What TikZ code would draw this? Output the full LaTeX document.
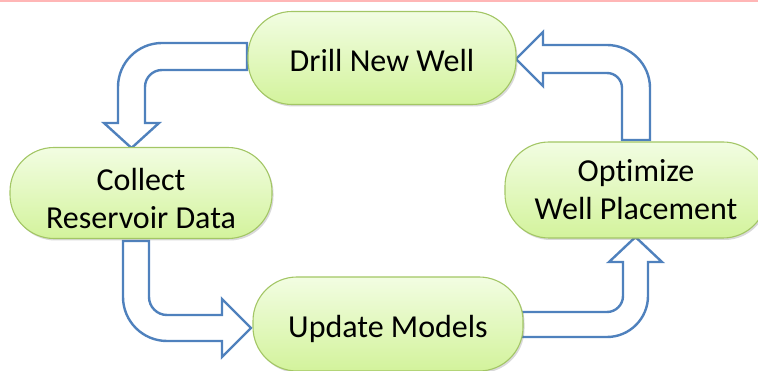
\documentclass[tikz,border=0pt]{standalone}
\usepackage{fontspec}
\setmainfont{Carlito}[Ligatures=NoCommon]
\usetikzlibrary{shadows,backgrounds}

\definecolor{arrowblue}{HTML}{4F81BD}
\definecolor{stagetop}{HTML}{F2FDE2}
\definecolor{stagebot}{HTML}{D3F39C}
\definecolor{stageedge}{HTML}{A3C665}
\definecolor{topline}{HTML}{FFB6B6}

\begin{document}
\begin{tikzpicture}[x=1pt, y=-1pt,
  stage/.style={rounded corners=44pt, draw=stageedge, line width=1.1pt,
    top color=stagetop, bottom color=stagebot,
    drop shadow={shadow xshift=1.5pt, shadow yshift=-2pt, opacity=0.25, fill=black!60},
    font=\fontsize{32}{38}\selectfont, align=center, inner sep=0pt, text=black,
    text depth=0pt},
  blockarrow/.style={draw=arrowblue, fill=white, line width=2.4pt, line join=miter}]

\useasboundingbox (0,0) rectangle (758,371);

% thin rule along the top edge
\fill[topline] (0,0) rectangle (758,1.6);

% process stages (text height sets where the last baseline sits)
\node[stage, text height=26.5pt, minimum width=268pt, minimum height=93pt] (drill) at (382,58) {Drill New Well};
\node[stage, text height=70.6pt, minimum width=262pt, minimum height=91pt] (collect) at (141,193) {Collect\\Reservoir Data};
\node[stage, text height=60pt, minimum width=262pt, minimum height=96pt] (optimize) at (636,190) {Optimize\\Well Placement};
\node[stage, text height=26.5pt, minimum width=270pt, minimum height=94pt] (update) at (388,324) {Update Models};

% bent block arrows linking the stages
\begin{scope}[on background layer]
  % drill -> collect
  \draw[blockarrow] (247,43) -- (162,43) .. controls (137.7,43) and (118,62.7) .. (118,87)
    -- (118,123) -- (104,123) -- (131.5,148) -- (159,123) -- (145,123) -- (145,87)
    .. controls (145,77.6) and (152.6,70) .. (162,70) -- (247,70) -- cycle;
  % collect -> update
  \draw[blockarrow] (123,241) -- (123,297) .. controls (123,321.3) and (142.7,341) .. (167,341)
    -- (222,341) -- (222,357) -- (251,328) -- (222,299) -- (222,315) -- (167,315)
    .. controls (157.1,315) and (149,306.9) .. (149,297) -- (149,241) -- cycle;
  % update -> optimize
  \draw[blockarrow] (522,312) -- (607,312) .. controls (615.8,312) and (623,304.8) .. (623,296)
    -- (623,262) -- (609,262) -- (635.5,237) -- (662,262) -- (648,262) -- (648,296)
    .. controls (648,318.6) and (629.6,337) .. (607,337) -- (522,337) -- cycle;
  % optimize -> drill
  \draw[blockarrow] (650,140) -- (650,88) .. controls (650,64.3) and (630.7,45) .. (607,45)
    -- (543,45) -- (543,32) -- (516,59) -- (543,86) -- (543,73) -- (607,73)
    .. controls (615.3,73) and (622,79.7) .. (622,88) -- (622,140) -- cycle;
\end{scope}
\end{tikzpicture}
\end{document}
